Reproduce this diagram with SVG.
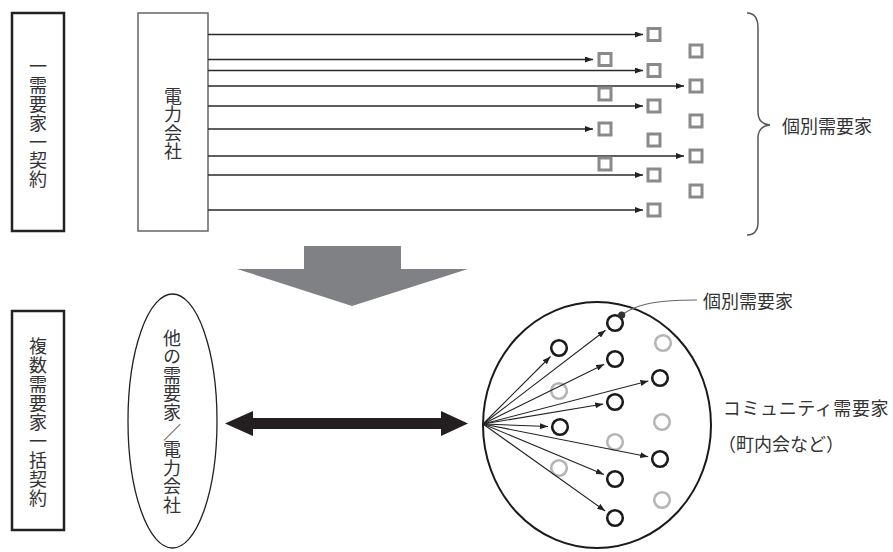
<svg xmlns="http://www.w3.org/2000/svg" width="893" height="552" viewBox="0 0 893 552">
  <style>
    .lbl { font-family: "Noto Sans CJK JP", "Noto Sans", sans-serif; font-size: 18px; fill: #333; }
    .col { writing-mode: vertical-rl; text-orientation: upright; }
    .frame { fill: #fff; stroke: #222; stroke-width: 2.5; }
    .house { fill: #fff; stroke: #8a8a8a; stroke-width: 3; }
    .member { fill: none; stroke: #1a1a1a; stroke-width: 2.6; }
    .other { fill: none; stroke: #b5b5b5; stroke-width: 2.6; }
    .feed { stroke: #2a2a2a; stroke-width: 1.3; fill: none; marker-end: url(#tip); }
    .fan { stroke: #222; stroke-width: 1.1; fill: none; marker-end: url(#tip); }
  </style>
  <defs>
    <marker id="tip" viewBox="0 0 8 6" refX="8" refY="3" markerWidth="8" markerHeight="6" markerUnits="userSpaceOnUse" orient="auto">
      <path d="M0,0 L8,3 L0,6 z" fill="#222"/>
    </marker>
  </defs>

  <rect width="893" height="552" fill="#fff"/>

  <!-- upper row: one contract per customer -->
  <g id="label-single">
    <rect class="frame" x="12" y="13" width="52" height="218"/>
    <text class="lbl col" x="38" y="57.6" letter-spacing="0.8">一需要家一契約</text>
  </g>

  <g id="utility">
    <rect x="138" y="13" width="70" height="218" fill="#fff" stroke="#666" stroke-width="1.5"/>
    <text class="lbl col" x="173" y="86.8" letter-spacing="0.5">電力会社</text>
  </g>

  <g id="connectors-top">
    <line class="feed" x1="208" y1="34.5" x2="643" y2="34.5"/>
    <line class="feed" x1="208" y1="59.5" x2="593" y2="59.5"/>
    <line class="feed" x1="208" y1="70.5" x2="643" y2="70.5"/>
    <line class="feed" x1="208" y1="86" x2="684" y2="86"/>
    <line class="feed" x1="208" y1="106" x2="643" y2="106"/>
    <line class="feed" x1="208" y1="129" x2="593" y2="129"/>
    <line class="feed" x1="208" y1="156" x2="684" y2="156"/>
    <line class="feed" x1="208" y1="175" x2="643" y2="175"/>
    <line class="feed" x1="208" y1="210" x2="643" y2="210"/>
  </g>

  <g id="customers-top">
    <rect class="house" x="599" y="53.5" width="12" height="12"/>
    <rect class="house" x="599" y="88" width="12" height="12"/>
    <rect class="house" x="599" y="123" width="12" height="12"/>
    <rect class="house" x="599" y="158" width="12" height="12"/>

    <rect class="house" x="648" y="28.5" width="12" height="12"/>
    <rect class="house" x="648" y="64.5" width="12" height="12"/>
    <rect class="house" x="648" y="100" width="12" height="12"/>
    <rect class="house" x="648" y="134" width="12" height="12"/>
    <rect class="house" x="648" y="169" width="12" height="12"/>
    <rect class="house" x="648" y="204" width="12" height="12"/>

    <rect class="house" x="690" y="45" width="12" height="12"/>
    <rect class="house" x="690" y="80" width="12" height="12"/>
    <rect class="house" x="690" y="115" width="12" height="12"/>
    <rect class="house" x="690" y="150" width="12" height="12"/>
    <rect class="house" x="690" y="185" width="12" height="12"/>
  </g>

  <g id="brace-label">
    <path d="M747 13 Q758 13 758 28 L758 112 Q758 124 770 125 Q758 126 758 138 L758 222 Q758 235 747 235" fill="none" stroke="#555" stroke-width="1.5"/>
    <text class="lbl" x="782" y="125" dominant-baseline="central">個別需要家</text>
  </g>

  <!-- transition arrow -->
  <g id="transition">
    <polygon points="304,246 401,246 401,269 468,269 352,306 237,269 304,269" fill="#808184"/>
  </g>

  <!-- lower row: bulk contract -->
  <g id="label-bulk">
    <rect class="frame" x="12" y="311" width="52" height="219"/>
    <text class="lbl col" x="38" y="337.5" letter-spacing="0.9">複数需要家一括契約</text>
  </g>

  <g id="counterparty">
    <ellipse cx="172.5" cy="421" rx="44.5" ry="127" fill="#fff" stroke="#222" stroke-width="1.3"/>
    <text class="lbl col" x="172" y="328.7" letter-spacing="0.6">他の需要家</text>
    <text class="lbl" x="172" y="431" text-anchor="middle" dominant-baseline="central">／</text>
    <text class="lbl col" x="172" y="440.3" letter-spacing="0.6">電力会社</text>
  </g>

  <g id="exchange">
    <polygon points="225,423.5 253,411 253,418 441,418 441,411 468,423.5 441,436 441,429 253,429 253,436" fill="#231f20"/>
  </g>

  <g id="community">
    <ellipse cx="597" cy="425" rx="114" ry="123" fill="#fff" stroke="#1a1a1a" stroke-width="2"/>
    <circle class="other" cx="663" cy="343" r="7.8"/>
    <circle class="other" cx="559" cy="391" r="7.8"/>
    <circle class="other" cx="662" cy="422" r="7.8"/>
    <circle class="other" cx="615" cy="442" r="7.8"/>
    <circle class="other" cx="559" cy="468" r="7.8"/>
    <circle class="other" cx="662" cy="500" r="7.8"/>

    <circle class="member" cx="615" cy="323" r="7.8"/>
    <circle class="member" cx="559" cy="348" r="7.8"/>
    <circle class="member" cx="615" cy="359" r="7.8"/>
    <circle class="member" cx="660" cy="378" r="7.8"/>
    <circle class="member" cx="615" cy="402" r="7.8"/>
    <circle class="member" cx="560" cy="427" r="7.8"/>
    <circle class="member" cx="660" cy="459" r="7.8"/>
    <circle class="member" cx="615" cy="479" r="7.8"/>
    <circle class="member" cx="615" cy="518" r="7.8"/>
  </g>

  <g id="connectors-fan">
    <line class="fan" x1="483" y1="424" x2="605.5" y2="330.3"/>
    <line class="fan" x1="483" y1="424" x2="550.5" y2="356.5"/>
    <line class="fan" x1="483" y1="424" x2="604.2" y2="364.3"/>
    <line class="fan" x1="483" y1="424" x2="648.4" y2="381"/>
    <line class="fan" x1="483" y1="424" x2="603.2" y2="404"/>
    <line class="fan" x1="483" y1="424" x2="548" y2="426.5"/>
    <line class="fan" x1="483" y1="424" x2="648.2" y2="456.7"/>
    <line class="fan" x1="483" y1="424" x2="603.9" y2="474.4"/>
    <line class="fan" x1="483" y1="424" x2="605.2" y2="511"/>
  </g>

  <g id="callout">
    <path d="M623 314 C635 306 650 300 697 300" fill="none" stroke="#666" stroke-width="1.1"/>
    <circle cx="621.7" cy="315" r="3.6" fill="#333"/>
    <text class="lbl" x="703" y="300" dominant-baseline="central">個別需要家</text>
  </g>

  <g id="community-label">
    <text class="lbl" x="806" y="407" text-anchor="middle" dominant-baseline="central" letter-spacing="0.6">コミュニティ需要家</text>
    <text class="lbl" x="781" y="443" text-anchor="middle" dominant-baseline="central">（町内会など）</text>
  </g>
</svg>
